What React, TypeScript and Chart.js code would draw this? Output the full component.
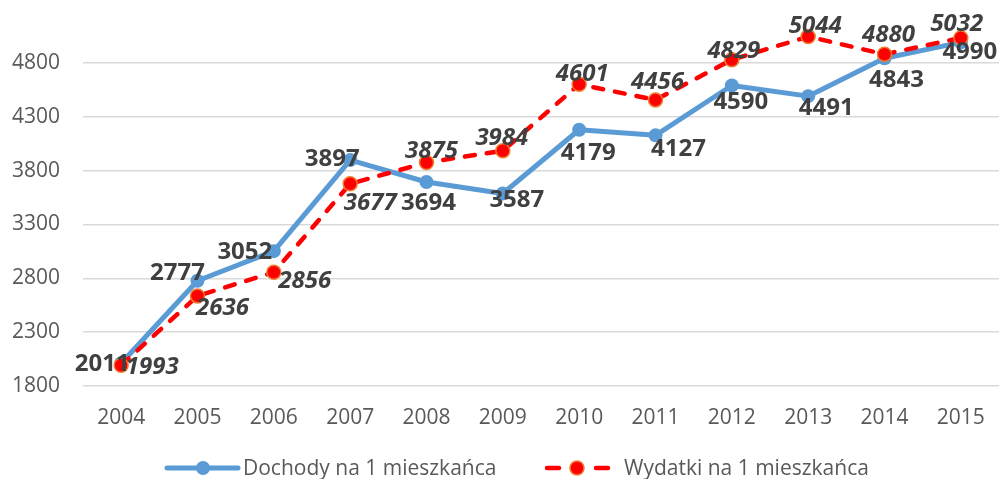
import React, { useEffect, useRef } from "react";
import { Chart, registerables } from "chart.js";

Chart.register(...registerables);

const years = ["2004", "2005", "2006", "2007", "2008", "2009", "2010", "2011", "2012", "2013", "2014", "2015"];
const dochody = [2011, 2777, 3052, 3897, 3694, 3587, 4179, 4127, 4590, 4491, 4843, 4990];
const wydatki = [1993, 2636, 2856, 3677, 3875, 3984, 4601, 4456, 4829, 5044, 4880, 5032];
const seriesNames = ["Dochody na 1 mieszkańca", "Wydatki na 1 mieszkańca"];

// label placement (text centre relative to point), px
const dochodyLabelOffsets = [[-19, 1], [-20, -8], [-29, 1], [-18, -1], [2, 21], [14, 7], [9, 23], [23, 14], [9, 17], [18, 12], [12, 22], [9, 10]];
const wydatkiLabelOffsets = [[31, 2], [25, 12], [31, 9], [20, 19], [5, -11], [-1, -13], [3, -10], [2, -18], [2, -9], [7, -10], [4, -19], [-4, -14]];

const FONT = "'Open Sans', sans-serif";
const BLUE = "#5B9BD5";
const RED = "#FF0000";
const ORANGE = "#ED7D31";
const TEXT = "#595959";
const LABEL = "#404040";

const labelPlugin = {
  id: "valueLabels",
  afterDatasetsDraw(chart: any) {
    const ctx = chart.ctx;
    ctx.save();
    ctx.textAlign = "center";
    ctx.textBaseline = "middle";
    ctx.fillStyle = LABEL;
    chart.data.datasets.forEach((ds: any, di: number) => {
      const meta = chart.getDatasetMeta(di);
      const offs = di === 0 ? dochodyLabelOffsets : wydatkiLabelOffsets;
      ctx.font = di === 0 ? `bold 24px ${FONT}` : `italic bold 24px ${FONT}`;
      meta.data.forEach((pt: any, i: number) => {
        const [dx, dy] = offs[i];
        ctx.fillText(String(ds.data[i]), pt.x + dx, pt.y + dy);
      });
    });
    ctx.restore();
  },
};

const legendPlugin = {
  id: "customLegend",
  afterDraw(chart: any) {
    const ctx = chart.ctx;
    const y = 468;
    ctx.save();
    ctx.font = `21px ${FONT}`;
    ctx.textBaseline = "middle";
    ctx.textAlign = "left";
    // blue item
    let x = 167;
    ctx.strokeStyle = BLUE;
    ctx.lineWidth = 5;
    ctx.lineCap = "round";
    ctx.beginPath();
    ctx.moveTo(x, y);
    ctx.lineTo(x + 71, y);
    ctx.stroke();
    ctx.fillStyle = BLUE;
    ctx.beginPath();
    ctx.arc(x + 36, y, 7, 0, Math.PI * 2);
    ctx.fill();
    ctx.fillStyle = TEXT;
    ctx.fillText(seriesNames[0], 243, y + 1);
    // red item
    x = 545;
    ctx.strokeStyle = RED;
    ctx.lineWidth = 4.5;
    ctx.lineCap = "round";
    ctx.beginPath();
    ctx.moveTo(x + 2, y);
    ctx.lineTo(x + 14, y);
    ctx.moveTo(x + 51, y);
    ctx.lineTo(x + 63, y);
    ctx.stroke();
    ctx.fillStyle = RED;
    ctx.strokeStyle = ORANGE;
    ctx.lineWidth = 1.5;
    ctx.beginPath();
    ctx.arc(x + 32, y, 7, 0, Math.PI * 2);
    ctx.fill();
    ctx.stroke();
    ctx.fillStyle = TEXT;
    ctx.fillText(seriesNames[1], 624, y + 1);
    ctx.restore();
  },
};

export default function App() {
  const ref = useRef<HTMLCanvasElement>(null);
  useEffect(() => {
    const chart = new Chart(ref.current!, {
      type: "line",
      data: {
        labels: years,
        datasets: [
          {
            label: seriesNames[0],
            data: dochody,
            borderColor: BLUE,
            backgroundColor: BLUE,
            borderWidth: 5,
            pointRadius: 7,
            pointBackgroundColor: BLUE,
            pointBorderColor: BLUE,
            pointBorderWidth: 0,
            tension: 0,
            order: 1,
            borderJoinStyle: "round",
            borderCapStyle: "round",
            clip: false,
          },
          {
            label: seriesNames[1],
            data: wydatki,
            borderColor: RED,
            backgroundColor: RED,
            borderWidth: 4.5,
            borderDash: [10, 12],
            borderCapStyle: "round",
            pointRadius: 7,
            pointBackgroundColor: RED,
            pointBorderColor: ORANGE,
            pointBorderWidth: 1.5,
            tension: 0,
            order: 0,
            clip: false,
          },
        ],
      },
      options: {
        responsive: false,
        animation: false,
        devicePixelRatio: 1,
        layout: { autoPadding: false, padding: { top: 9, bottom: 50, left: 0, right: 0 } },
        plugins: {
          legend: { display: false },
          tooltip: { enabled: false },
        },
        scales: {
          x: {
            offset: true,
            grid: { display: false, drawTicks: false, offset: true },
            border: { display: false },
            ticks: { color: TEXT, font: { family: FONT, size: 21 }, padding: 19, maxRotation: 0 },
            afterFit: (s: any) => {
              s.height = 43;
              s.paddingLeft = 0;
              s.paddingRight = 0;
            },
          },
          y: {
            min: 1800,
            max: 5300,
            grid: {
              drawTicks: false,
              color: (c: any) => (c.tick && c.tick.value === 5300 ? "rgba(0,0,0,0)" : "#d9d9d9"),
              lineWidth: 1.5,
            },
            border: { display: false },
            ticks: {
              stepSize: 500,
              color: TEXT,
              font: { family: FONT, size: 21 },
              padding: 23,
              callback: (v: any) => (v === 5300 ? "" : String(v)),
            },
            afterFit: (s: any) => {
              s.width = 83;
              s.paddingTop = 0;
              s.paddingBottom = 0;
            },
          },
        },
      },
      plugins: [labelPlugin, legendPlugin],
    });
    return () => chart.destroy();
  }, []);
  return (
    <div style={{ position: "fixed", left: 0, top: 0, width: 999, height: 479, background: "#fff" }}>
      <canvas ref={ref} width={999} height={479} />
    </div>
  );
}
